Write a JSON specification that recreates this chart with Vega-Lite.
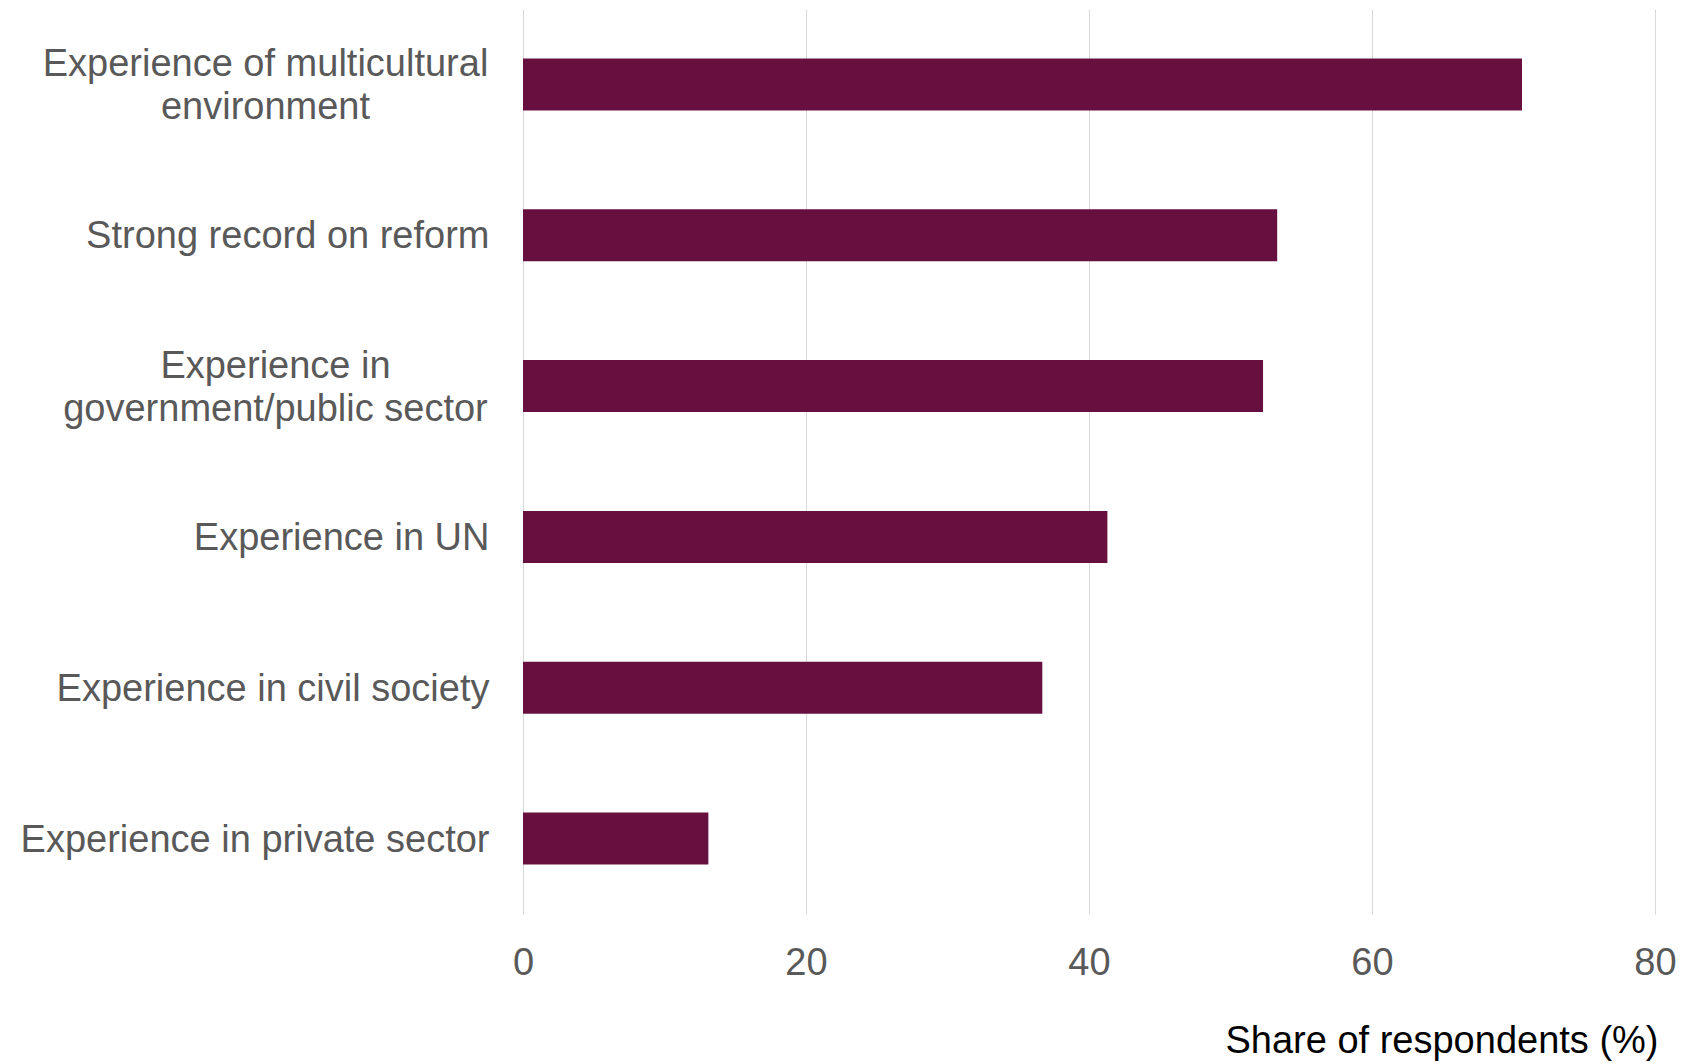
{
  "$schema": "https://vega.github.io/schema/vega-lite/v6.json",
  "width": 1132,
  "height": 905,
  "autosize": {"type": "none"},
  "padding": {"left": 523, "top": 9, "right": 40, "bottom": 149},
  "background": "white",
  "data": {
    "values": [
      {"category": "Experience of multicultural|environment", "value": 70.6},
      {"category": "Strong record on reform", "value": 53.3},
      {"category": "Experience in|government/public sector", "value": 52.3},
      {"category": "Experience in UN", "value": 41.3},
      {"category": "Experience in civil society", "value": 36.7},
      {"category": "Experience in private sector", "value": 13.1}
    ]
  },
  "mark": {"type": "bar", "color": "#671040"},
  "encoding": {
    "y": {
      "field": "category",
      "type": "nominal",
      "sort": null,
      "scale": {"paddingInner": 0.655, "paddingOuter": 0.3275},
      "axis": {
        "title": null,
        "domain": false,
        "ticks": false,
        "grid": false,
        "labelExpr": "split(datum.label, '|')",
        "labelFont": "Arial",
        "labelFontSize": 38,
        "labelColor": "#595959",
        "labelLineHeight": 43,
        "labelLimit": 0,
        "labelAlign": {"condition": {"test": "indexof(datum.value, '|') >= 0", "value": "center"}, "value": "right"},
        "labelPadding": {"condition": [
          {"test": "indexof(datum.value, 'multicultural') >= 0", "value": 258},
          {"test": "indexof(datum.value, 'government') >= 0", "value": 248}
        ], "value": 34},
        "labelOffset": {"condition": {"test": "indexof(datum.value, '|') >= 0", "value": -19}, "value": 2}
      }
    },
    "x": {
      "field": "value",
      "type": "quantitative",
      "scale": {"domain": [0, 80], "nice": false},
      "axis": {
        "values": [0, 20, 40, 60, 80],
        "domain": false,
        "ticks": false,
        "grid": true,
        "gridColor": "#d9d9d9",
        "gridWidth": 1,
        "labelFont": "Arial",
        "labelFontSize": 38,
        "labelColor": "#595959",
        "labelPadding": 30,
        "labelFlush": false,
        "title": "Share of respondents (%)",
        "titleFont": "Arial",
        "titleFontSize": 38,
        "titleFontWeight": "normal",
        "titleColor": "#000000",
        "titleAlign": "right",
        "titleAnchor": null,
        "titleBaseline": "middle",
        "titleX": 1135,
        "titleY": 127
      }
    }
  },
  "config": {"view": {"stroke": null}}
}
